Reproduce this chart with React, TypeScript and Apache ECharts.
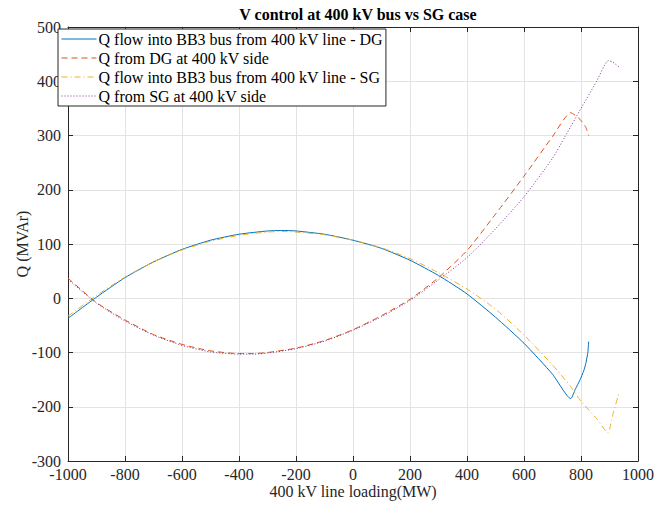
import React, { useEffect, useRef } from "react";
import * as echarts from "echarts";

const titleText = "V control at 400 kV bus vs SG case";
const xAxisName = "400 kV line loading(MW)";
const yAxisName = "Q (MVAr)";

const seriesNames = [
  "Q flow into BB3 bus from 400 kV line - DG",
  "Q from DG at 400 kV side",
  "Q flow into BB3 bus from 400 kV line - SG",
  "Q from SG at 400 kV side",
];

const blueX = [-1000, -900, -800, -700, -600, -500, -400, -300, -250, -200, -100, 0, 100, 200, 300, 400, 500, 600, 700, 764, 780, 796, 810, 817, 824, 827];
const blueY = [-37, 2, 38, 67, 90, 107, 118, 124, 125, 124, 118, 107, 92, 70, 42, 8, -35, -83, -140, -185, -168, -151, -133, -120, -100, -80];

const redX = [-1000, -900, -800, -700, -600, -500, -400, -350, -300, -200, -100, 0, 100, 200, 300, 400, 500, 600, 700, 764, 796, 817, 827];
const redY = [37, -8, -40, -67, -85, -97, -102, -102, -100, -92, -78, -58, -32, -2, 38, 88, 155, 225, 298, 342, 330, 315, 300];

const yellowX = [-1000, -900, -800, -700, -600, -500, -400, -300, -250, -200, -100, 0, 100, 200, 300, 400, 500, 600, 700, 764, 800, 855, 894, 913, 933];
const yellowY = [-33, 5, 39, 67, 89, 105, 116, 122, 123, 122, 117, 107, 93, 73, 47, 17, -20, -68, -123, -163, -190, -222, -248, -212, -175];

const purpleX = [-1000, -900, -800, -700, -600, -500, -400, -350, -300, -200, -100, 0, 100, 200, 300, 400, 500, 600, 700, 744, 800, 855, 896, 912, 934];
const purpleY = [35, -9, -42, -68, -87, -99, -103, -103, -101, -93, -79, -59, -34, -4, 34, 75, 128, 187, 258, 298, 350, 400, 438, 435, 426];

const colors = ["#0072BD", "#D95319", "#EDB120", "#7E2F8E"];
const dashes: any[] = ["solid", [6, 4], [6, 3, 1, 3], [1, 2]];

const FONT = "'Liberation Serif', 'Times New Roman', serif";

function zip(xs: number[], ys: number[]) {
  return xs.map((x, i) => [x, ys[i]]);
}

export default function App() {
  const ref = useRef<HTMLDivElement>(null);
  useEffect(() => {
    if (!ref.current) return;
    const chart = echarts.init(ref.current, null, { renderer: "svg" });
    const datasets = [zip(blueX, blueY), zip(redX, redY), zip(yellowX, yellowY), zip(purpleX, purpleY)];
    const axisLine = { show: true, onZero: false, lineStyle: { color: "#262626", width: 1 } };
    const tick = { show: true, inside: true, length: 5, lineStyle: { color: "#262626" } };
    const fmt = (v: number) => String(v);
    const option: any = {
      animation: false,
      backgroundColor: "#fff",
      title: {
        text: titleText,
        left: 353,
        top: 1,
        textAlign: "center",
        textStyle: { fontFamily: FONT, fontSize: 16, fontWeight: "bold", color: "#000" },
      },
      grid: { left: 68, right: 16, top: 27, bottom: 47, outerBoundsMode: "none", containLabel: false },
      legend: {
        orient: "vertical",
        left: 58,
        top: 29,
        itemWidth: 35,
        itemHeight: 16,
        itemGap: 3,
        padding: [2, 3, 2, 3],
        borderColor: "#262626",
        borderWidth: 1,
        borderRadius: 0,
        backgroundColor: "#fff",
        itemStyle: { opacity: 0 },
        lineStyle: { width: 1 },
        textStyle: { fontFamily: FONT, fontSize: 16, color: "#000", padding: [0, 0, 0, -3] },
        data: seriesNames,
      },
      xAxis: [
        {
          type: "value",
          min: -1000,
          max: 1000,
          interval: 200,
          position: "bottom",
          name: xAxisName,
          nameLocation: "middle",
          nameGap: 22,
          nameMoveOverlap: false,
          nameTextStyle: { fontFamily: FONT, fontSize: 16, color: "#262626" },
          axisLine,
          axisTick: tick,
          axisLabel: { fontFamily: FONT, fontSize: 16, color: "#262626", margin: 5, formatter: fmt },
          splitLine: { show: true, lineStyle: { color: "#e3e3e3", width: 1 } },
        },
        {
          type: "value",
          min: -1000,
          max: 1000,
          interval: 200,
          position: "top",
          axisLine,
          axisTick: tick,
          axisLabel: { show: false },
          splitLine: { show: false },
        },
      ],
      yAxis: [
        {
          type: "value",
          min: -300,
          max: 500,
          interval: 100,
          position: "left",
          name: yAxisName,
          nameLocation: "middle",
          nameGap: 38,
          nameMoveOverlap: false,
          nameTextStyle: { fontFamily: FONT, fontSize: 16, color: "#262626" },
          axisLine,
          axisTick: tick,
          axisLabel: { fontFamily: FONT, fontSize: 16, color: "#262626", margin: 7, formatter: fmt },
          splitLine: { show: true, lineStyle: { color: "#e3e3e3", width: 1 } },
        },
        {
          type: "value",
          min: -300,
          max: 500,
          interval: 100,
          position: "right",
          axisLine,
          axisTick: tick,
          axisLabel: { show: false },
          splitLine: { show: false },
        },
      ],
      series: seriesNames.map((name, i) => ({
        name,
        type: "line",
        xAxisIndex: 0,
        yAxisIndex: 0,
        data: datasets[i],
        symbol: "none",
        showSymbol: false,
        smooth: 0.2,
        lineStyle: { color: colors[i], width: 1, type: dashes[i] },
        itemStyle: { color: colors[i] },
      })),
    };
    chart.setOption(option);
    return () => chart.dispose();
  }, []);
  return (
    <div
      ref={ref}
      style={{ position: "fixed", left: 0, top: 0, width: 654, height: 508, background: "#fff" }}
    />
  );
}
